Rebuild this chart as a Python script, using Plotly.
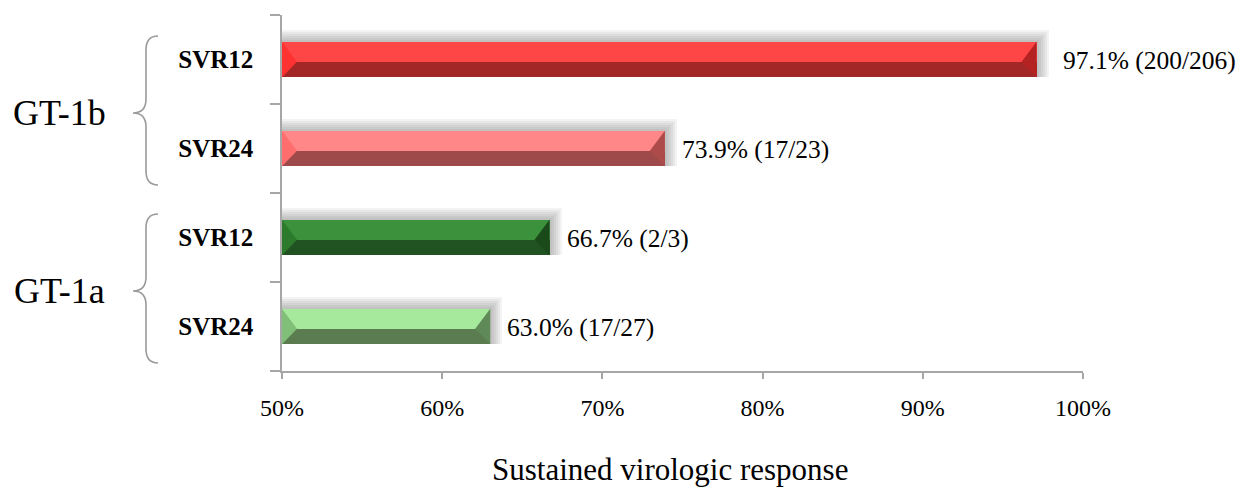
import plotly.graph_objects as go

# ---------------- data ----------------
groups = ["GT-1b", "GT-1b", "GT-1a", "GT-1a"]
measures = ["SVR12", "SVR24", "SVR12", "SVR24"]
svr_pct = [97.1, 73.9, 66.7, 63.0]
responders = [200, 17, 2, 17]
totals = [206, 23, 3, 27]
x_ticks = [50, 60, 70, 80, 90, 100]
x_tick_text = ["50%", "60%", "70%", "80%", "90%", "100%"]
axis_title = "Sustained virologic response"

# ---------------- styles ----------------
top_colors = ["#FF4646", "#FF8787", "#3C923C", "#A6E89C"]
bottom_colors = ["#A32727", "#9E4A4A", "#215221", "#5B7C51"]
left_bevel = ["#FF3232", "#FF6E6E", "#2C7A2C", "#80BF78"]
right_bevel = ["#B52222", "#AD4B4B", "#1A4A1A", "#5F8A58"]
label_gap = [24, 15, 15, 15]
FONT = "Liberation Serif"
AXIS_GREY = "#A6A6A6"

OFF = 8                      # page body margin
W, H = 1245 - OFF, 487 - OFF
ML, MT = 282 - OFF, 15 - OFF
plot_w, plot_h = 801, 356
MR = W - ML - plot_w
MB = H - MT - plot_h
X0, X1 = x_ticks[0], x_ticks[-1]
n = len(svr_pct)
Y0, Y1 = -0.5, n - 0.5
px_x = (X1 - X0) / plot_w   # data units per pixel (x)
px_y = (Y1 - Y0) / plot_h   # data units per pixel (y)

ypos = [n - 1 - i for i in range(n)]   # first item at top
bar_w = 0.40
dark_frac = 0.44

fig = go.Figure()

# soft shadow (layered translucent bars)
for k in range(6, 0, -1):
    fig.add_trace(go.Bar(
        orientation="h", y=ypos,
        x=[v - X0 + 2.0 * k * px_x for v in svr_pct], base=X0,
        width=bar_w + 2.0 * k * px_y, offset=-bar_w / 2,
        marker=dict(color="rgba(100,100,100,0.075)", line=dict(width=0)),
        hoverinfo="skip", showlegend=False,
    ))

# dark lower face
fig.add_trace(go.Bar(
    orientation="h", y=ypos, x=[v - X0 for v in svr_pct], base=X0,
    width=bar_w * dark_frac, offset=-bar_w / 2,
    marker=dict(color=bottom_colors, line=dict(width=0)),
    showlegend=False,
))
# light upper face
fig.add_trace(go.Bar(
    orientation="h", y=ypos, x=[v - X0 for v in svr_pct], base=X0,
    width=bar_w * (1 - dark_frac), offset=-bar_w / 2 + bar_w * dark_frac,
    marker=dict(color=top_colors, line=dict(width=0)),
    showlegend=False,
))

# bevel ends
bev = 15 * px_x
for i, v in enumerate(svr_pct):
    yc = ypos[i]
    yt, yb = yc + bar_w / 2, yc - bar_w / 2
    ys = yb + bar_w * dark_frac
    fig.add_shape(type="path", xref="x", yref="y", layer="above",
                  path=f"M {X0},{yt} L {X0 + bev},{ys} L {X0},{yb} Z",
                  fillcolor=left_bevel[i], line=dict(width=0))
    fig.add_shape(type="path", xref="x", yref="y", layer="above",
                  path=f"M {v},{yt} L {v - bev},{ys} L {v},{yb} Z",
                  fillcolor=right_bevel[i], line=dict(width=0))
    fig.add_annotation(x=v, y=yc, xref="x", yref="y", xanchor="left",
                       xshift=label_gap[i], yshift=-1, showarrow=False,
                       text=f"{v:.1f}% ({responders[i]}/{totals[i]})",
                       font=dict(family=FONT, size=25.5, color="#000"))

# group braces and labels (positions given in reference-image pixels)
def paper_x(px):
    return (px - OFF - ML) / plot_w

uniq = []
for g in groups:
    if g not in uniq:
        uniq.append(g)
for g in uniq:
    idx = [ypos[i] for i in range(n) if groups[i] == g]
    top = max(idx) + 0.5 - 21 * px_y
    bot = min(idx) - 0.5 + 8 * px_y
    tip = (max(idx) + min(idx)) / 2 - 9 * px_y
    xe, xm, xt = paper_x(158), paper_x(146), paper_x(133)
    c = 14 * px_y
    path = (f"M {xe},{top} Q {xm},{top} {xm},{top - c} L {xm},{tip + c} "
            f"Q {xm},{tip} {xt},{tip} Q {xm},{tip} {xm},{tip - c} "
            f"L {xm},{bot + c} Q {xm},{bot} {xe},{bot}")
    fig.add_shape(type="path", xref="paper", yref="y", path=path,
                  line=dict(color="#9A9A9A", width=1.6))
    fig.add_annotation(x=paper_x(59), y=tip, xref="paper", yref="y",
                       xanchor="center", yanchor="middle", showarrow=False,
                       text=g, font=dict(family=FONT, size=36, color="#000"))

fig.add_annotation(x=paper_x(670), y=0, xref="paper", yref="paper",
                   yanchor="middle", yshift=-(469 - 371), showarrow=False,
                   text=axis_title, font=dict(family=FONT, size=31, color="#000"))

fig.update_layout(
    width=W, height=H,
    margin=dict(l=ML, r=MR, t=MT, b=MB, pad=0),
    paper_bgcolor="white", plot_bgcolor="white",
    barmode="overlay", bargap=0,
    xaxis=dict(range=[X0, X1], tickvals=x_ticks, ticktext=x_tick_text,
               showgrid=False, zeroline=False, showline=True,
               linecolor=AXIS_GREY, linewidth=1.5,
               ticks="outside", ticklen=6, tickcolor=AXIS_GREY, tickwidth=1.5,
               ticklabelstandoff=8,
               tickfont=dict(family=FONT, size=24, color="#000")),
    yaxis=dict(range=[Y0, Y1], tickvals=ypos, ticktext=measures,
               showgrid=False, zeroline=False, showline=True,
               linecolor=AXIS_GREY, linewidth=1.5, ticks="",
               ticklabelstandoff=22,
               tickfont=dict(family=FONT, size=25, color="#000", weight="bold"),
               minor=dict(tickvals=[k - 0.5 for k in range(n + 1)],
                          ticks="outside", ticklen=10, tickcolor=AXIS_GREY,
                          tickwidth=1.5, showgrid=False)),
)

fig.write_html("out.html")
